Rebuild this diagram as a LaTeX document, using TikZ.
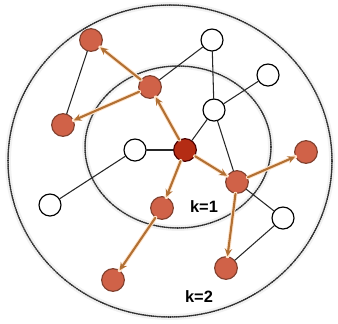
\documentclass[tikz,border=0pt]{standalone}
\usepackage{fontspec}
\setsansfont{Liberation Sans}
\definecolor{hopcol}{RGB}{178,112,52}
\definecolor{hitfill}{RGB}{208,98,72}
\definecolor{hitline}{RGB}{130,66,48}
\definecolor{srcfill}{RGB}{180,44,20}
\tikzset{
  ring/.style={draw=black!80,line width=1.3pt,dash pattern=on 0.9pt off 0.9pt,
    preaction={draw=black!5,line width=5pt,solid}},
  unv/.style={circle,draw=black,line width=1pt,fill=white,minimum size=0.66cm,inner sep=0pt},
  hit/.style={circle,draw=hitline,line width=1pt,fill=hitfill,minimum size=0.68cm,inner sep=0pt},
  src/.style={hit,fill=srcfill,draw=black!70!red},
  hop/.style={->,draw=hopcol,line width=1.8pt,preaction={-,draw=orange!20,line width=3.5pt}},
  link/.style={draw=black!85,line width=0.9pt}
}
\begin{document}
\begin{tikzpicture}[x=0.03cm,y=-0.03cm,>=stealth,line join=round,line cap=round,
  font=\sffamily\bfseries\fontsize{14}{14}\selectfont]
\useasboundingbox (0,0) rectangle (338,323);
% the two rings
\draw[ring] (170,161) ellipse [x radius=162,y radius=156];
\draw[ring] (178,147) ellipse [x radius=93,y radius=81];
% nodes
\node[src] (s) at (185,150) {};
\foreach \n/\x/\y in {a1/91/40,a2/63/125,a3/150/87,a4/162/208,a5/113/280,a6/237/182,a7/306/152,a8/226/268}
  \node[hit] (\n) at (\x,\y) {};
\foreach \n/\x/\y in {w1/212/40,w2/268/75,w3/214/110,w4/135/150,w5/50/205,w6/283/218}
  \node[unv] (\n) at (\x,\y) {};
% plain links
\foreach \p/\q in {a1/a2,a3/w1,w1/w3,w3/w2,w3/s,w3/a6,w4/s,w4/w5,a6/w6,w6/a8}
  \draw[link] (\p) -- (\q);
% hops from the source
\foreach \p/\q in {s/a3,a3/a1,a3/a2,s/a4,a4/a5,s/a6,a6/a7,a6/a8}
  \draw[hop] (\p) -- (\q);
\node (k1) at (204,207) {k=1};
\node (k2) at (199,297) {k=2};
\end{tikzpicture}
\end{document}
